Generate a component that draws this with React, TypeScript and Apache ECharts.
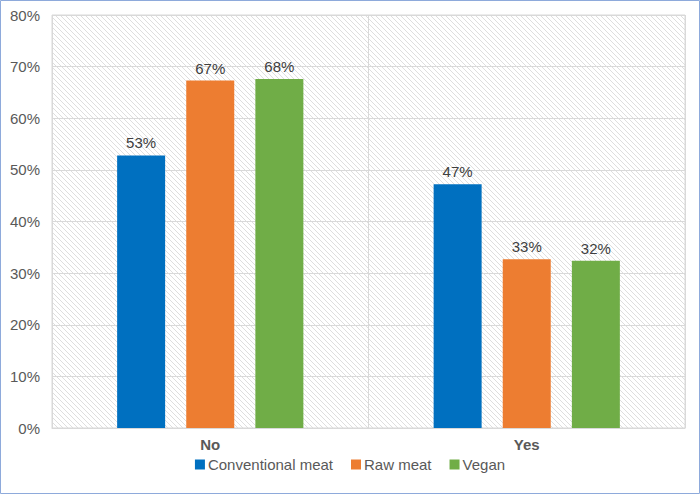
import React, { useEffect, useRef } from "react";
import * as echarts from "echarts";

const categories = ["No", "Yes"];
const seriesNames = ["Conventional meat", "Raw meat", "Vegan"];
const conventional = [52.8, 47.2];
const rawMeat = [67.3, 32.7];
const vegan = [67.6, 32.4];
const colors = ["#0070C0", "#ED7D31", "#70AD47"];

function makeHatch(): HTMLCanvasElement {
  const c = document.createElement("canvas");
  const s = 5;
  c.width = s;
  c.height = s;
  const ctx = c.getContext("2d")!;
  ctx.fillStyle = "#ffffff";
  ctx.fillRect(0, 0, s, s);
  ctx.strokeStyle = "#dedede";
  ctx.lineWidth = 1;
  ctx.beginPath();
  ctx.moveTo(-1, -1);
  ctx.lineTo(s + 1, s + 1);
  ctx.moveTo(-1, s - 1);
  ctx.lineTo(1, s + 1);
  ctx.moveTo(s - 1, -1);
  ctx.lineTo(s + 1, 1);
  ctx.stroke();
  return c;
}

export default function App() {
  const ref = useRef<HTMLDivElement>(null);
  useEffect(() => {
    if (!ref.current) return;
    const chart = echarts.init(ref.current, undefined, { renderer: "svg" });
    const hatch = makeHatch();
    const dataSets = [conventional, rawMeat, vegan];
    chart.setOption({
      animation: false,
      backgroundColor: "#ffffff",
      textStyle: { fontFamily: "Liberation Sans, Arial, sans-serif" },
      grid: {
        left: 52,
        right: 15,
        top: 15,
        bottom: 66,
        show: true,
        backgroundColor: { image: hatch.toDataURL(), repeat: "repeat" } as any,
        borderColor: "#d9d9d9",
        borderWidth: 1,
      },
      legend: {
        bottom: 17,
        left: "center",
        itemWidth: 10,
        itemHeight: 10,
        itemGap: 18,
        icon: "rect",
        textStyle: { fontSize: 15, color: "#595959", padding: [0, 0, 0, -2] },
        data: seriesNames,
      },
      xAxis: {
        type: "category",
        data: categories,
        axisLine: { show: true, lineStyle: { color: "#d9d9d9" } },
        axisTick: { show: false },
        splitLine: { show: true, lineStyle: { color: "#d9d9d9" } },
        axisLabel: { fontSize: 15, fontWeight: "bold", color: "#595959", margin: 9 },
      },
      yAxis: {
        type: "value",
        min: 0,
        max: 80,
        interval: 10,
        axisLine: { show: false },
        axisTick: { show: false },
        splitLine: { lineStyle: { color: "#d9d9d9" } },
        axisLabel: { fontSize: 15, color: "#595959", margin: 12, formatter: "{value}%" },
      },
      series: seriesNames.map((name, i) => ({
        name,
        type: "bar",
        data: dataSets[i],
        barWidth: 48,
        barGap: "44%",
        itemStyle: { color: colors[i] },
        label: {
          show: true,
          position: "top",
          distance: 5,
          fontSize: 15,
          color: "#404040",
          formatter: (p: any) => Math.round(p.value) + "%",
        },
      })),
      graphic: [
        {
          type: "rect",
          shape: { x: 0.5, y: 0.5, width: 699, height: 493 },
          style: { fill: "none", stroke: "#8EAADB", lineWidth: 1 },
          silent: true,
          z: 100,
        },
      ],
    });
    return () => chart.dispose();
  }, []);
  return (
    <div
      ref={ref}
      style={{ position: "absolute", left: 0, top: 0, width: 700, height: 494 }}
    />
  );
}
